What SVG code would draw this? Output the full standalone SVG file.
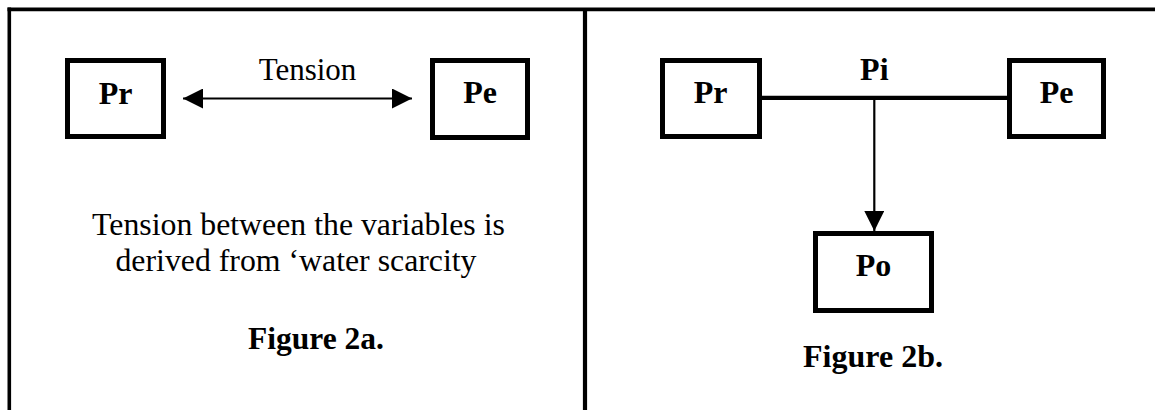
<svg xmlns="http://www.w3.org/2000/svg" width="1155" height="410" viewBox="0 0 1155 410">
  <style>
    .frame { stroke: #000; stroke-width: 3.6; fill: none; }
    .box { fill: #fff; stroke: #000; stroke-width: 5; }
    .lbl { font-family: "Liberation Serif", "Times New Roman", serif; font-weight: bold; font-size: 32px; fill: #000; text-anchor: middle; }
    .txt { font-family: "Liberation Serif", "Times New Roman", serif; font-size: 31px; fill: #000; text-anchor: middle; }
    .body { font-family: "Liberation Serif", "Times New Roman", serif; font-size: 31.8px; fill: #000; text-anchor: middle; }
    .cap { font-family: "Liberation Serif", "Times New Roman", serif; font-weight: bold; font-size: 31.5px; fill: #000; text-anchor: middle; }
    .thin { stroke: #000; stroke-width: 2.2; fill: none; }
    .thick { stroke: #000; stroke-width: 4.2; fill: none; }
  </style>
  <defs>
    <marker id="head" viewBox="0 0 20 20" refX="20" refY="10" markerWidth="20" markerHeight="20" markerUnits="userSpaceOnUse" orient="auto-start-reverse">
      <path d="M0,0 L20,10 L0,20 Z" fill="#000"/>
    </marker>
  </defs>
  <rect width="1155" height="410" fill="#fff"/>

  <!-- page frame and panel divider -->
  <g id="frame">
    <line class="frame" x1="7.5" y1="9.4" x2="1155" y2="9.4"/>
    <line class="frame" x1="9.3" y1="7.6" x2="9.3" y2="410"/>
    <line class="frame" x1="585" y1="9.4" x2="585" y2="410" style="stroke-width:4.2"/>
  </g>

  <!-- connectors -->
  <g id="connectors">
    <line class="thin" x1="183" y1="98.5" x2="412" y2="98.5" marker-start="url(#head)" marker-end="url(#head)"/>
    <line class="thick" x1="762" y1="97.8" x2="1007" y2="97.8"/>
    <line class="thin" x1="874.3" y1="99" x2="874.3" y2="231" marker-end="url(#head)"/>
  </g>

  <!-- panel a -->
  <g id="a-pr">
    <rect class="box" x="67.5" y="60.5" width="96" height="76"/>
    <text class="lbl" x="115.5" y="103.5">Pr</text>
  </g>
  <g id="a-pe">
    <rect class="box" x="432.5" y="60.5" width="95" height="77"/>
    <text class="lbl" x="480" y="103">Pe</text>
  </g>
  <text class="txt" x="307.5" y="80">Tension</text>
  <g id="a-note">
    <text class="body" x="298.5" y="235">Tension between the variables is</text>
    <text class="body" x="296" y="271">derived from ‘water scarcity</text>
  </g>
  <text class="cap" x="316" y="349">Figure 2a.</text>

  <!-- panel b -->
  <g id="b-pr">
    <rect class="box" x="662.5" y="60.5" width="97" height="76"/>
    <text class="lbl" x="710.5" y="103">Pr</text>
  </g>
  <g id="b-pe">
    <rect class="box" x="1009.5" y="60.5" width="94" height="76"/>
    <text class="lbl" x="1056.5" y="103">Pe</text>
  </g>
  <g id="b-pi">
    <text class="lbl" x="874.3" y="80">Pi</text>
  </g>
  <g id="b-po">
    <rect class="box" x="815.5" y="233.5" width="116" height="77"/>
    <text class="lbl" x="873.5" y="276">Po</text>
  </g>
  <text class="cap" x="873" y="367" style="font-size:32px">Figure 2b.</text>
</svg>
